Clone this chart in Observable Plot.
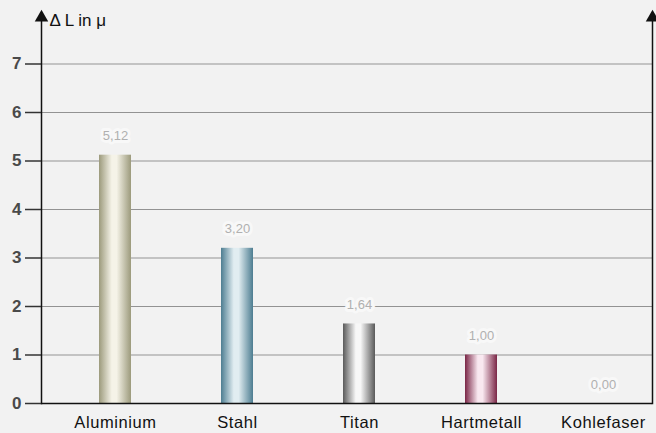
<!DOCTYPE html>
<html>
<head>
<meta charset="utf-8">
<script src="https://cdn.jsdelivr.net/npm/d3@7"></script>
<script src="https://cdn.jsdelivr.net/npm/@observablehq/plot@0.6"></script>
<style>
  html, body { margin: 0; padding: 0; background: #f2f2f2; }
  svg { display: block; font-family: "Liberation Sans", Arial, sans-serif; }
</style>
</head>
<body>
<div id="chart"></div>
<script>
const materials = ["Aluminium", "Stahl", "Titan", "Hartmetall", "Kohlefaser"];
const deltaL = [5.12, 3.20, 1.64, 1.00, 0.00];
const yTicks = [0, 1, 2, 3, 4, 5, 6, 7];
const gridValues = [1, 2, 3, 4, 5, 6, 7];
const yLabel = "\u0394 L in \u03bc";
// gradient colours (edge, centre) for each bar
const barEdge = ["#9c9a7c", "#4d7d91", "#5a5a5a", "#7a2646", "#555555"];
const barMid  = ["#f5f3e8", "#e1edf1", "#f7f7f7", "#f9e8f0", "#bbbbbb"];

const data = materials.map((m, i) => ({material: m, value: deltaL[i]}));
const fmt = v => d3.format(".2f")(v).replace(".", ",");

const plot = Plot.plot({
  width: 656,
  height: 433,
  marginLeft: 41,
  marginRight: 4,
  marginTop: 15,
  marginBottom: 30,
  style: {background: "#f2f2f2", fontFamily: "Liberation Sans, Arial, sans-serif"},
  x: {domain: materials, range: [53, 664], paddingInner: 0.74, paddingOuter: 0.37, align: 0.5},
  y: {domain: [0, 8]},
  color: {domain: materials, range: materials.map((_, i) => `url(#grad${i})`)},
  marks: [
    Plot.ruleY(gridValues, {stroke: "#939393", strokeWidth: 1.2}),
    Plot.barY(data, {x: "material", y: "value", fill: "material"}),
    Plot.ruleY([0], {stroke: "#111", strokeWidth: 1.5}),
    Plot.frame({anchor: "left", stroke: "#111", strokeWidth: 1.5}),
    Plot.frame({anchor: "right", stroke: "#111", strokeWidth: 1.5}),
    Plot.dot([0], {frameAnchor: "top-left", symbol: "triangle", r: 5, fill: "#111", stroke: "none", dy: 2}),
    Plot.dot([0], {frameAnchor: "top-right", symbol: "triangle", r: 5, fill: "#111", stroke: "none", dy: 2}),
    Plot.text(data, {x: "material", y: "value", text: d => fmt(d.value), dy: -19,
      fill: "#b0b0b0", stroke: "#f8f8f8", strokeWidth: 6, fontSize: 13}),
    Plot.text([yLabel], {frameAnchor: "top-left", text: d => d, dx: 8, dy: -2,
      textAnchor: "start", fontSize: 17, fill: "#111"}),
    Plot.axisY(yTicks, {tickSize: 16, tickPadding: 4, fontSize: 17, fontWeight: "bold",
      fill: "#4a4a4a", stroke: "#333", strokeWidth: 1.5, label: null}),
    Plot.axisX({tickSize: 0, tickPadding: 13, fontSize: 16.5, fill: "#111", label: null,
      style: {letterSpacing: "0.6px"}})
  ]
});

const svg = d3.select(plot);
const defs = svg.insert("defs", ":first-child");
materials.forEach((m, i) => {
  const g = defs.append("linearGradient").attr("id", `grad${i}`)
    .attr("x1", "0%").attr("x2", "100%").attr("y1", "0%").attr("y2", "0%");
  g.append("stop").attr("offset", "0%").attr("stop-color", barEdge[i]);
  g.append("stop").attr("offset", "40%").attr("stop-color", barMid[i]);
  g.append("stop").attr("offset", "55%").attr("stop-color", barMid[i]);
  g.append("stop").attr("offset", "100%").attr("stop-color", barEdge[i]);
});
svg.selectAll("[aria-label='x-axis tick label'] text").style("letter-spacing", "0.6px");
document.getElementById("chart").appendChild(plot);
</script>
</body>
</html>
